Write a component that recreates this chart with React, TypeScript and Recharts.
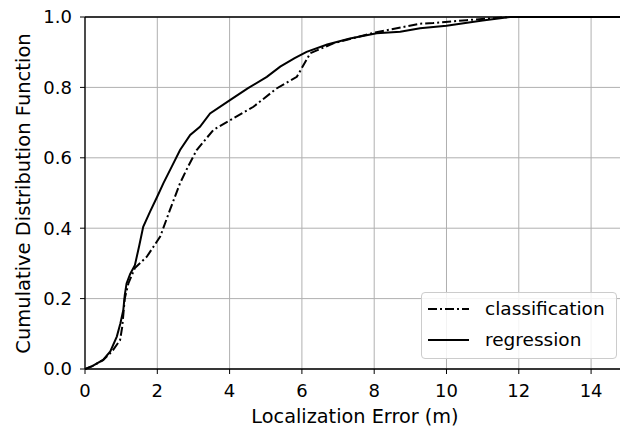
import { LineChart, Line, XAxis, YAxis, CartesianGrid, ReferenceLine, Label } from "recharts";

// localization error (m) and CDF values
const regressionX = [0, 0.2, 0.5, 0.7, 0.88, 0.98, 1.06, 1.1, 1.15, 1.25, 1.38, 1.5, 1.61, 1.8, 2.0, 2.17, 2.4, 2.63, 2.91, 3.18, 3.46, 4.01, 4.5, 5.03, 5.4, 5.8, 6.13, 6.7, 7.33, 8.07, 8.72, 9.27, 10.0, 11.0, 11.76, 14.8];
const regressionY = [0, 0.008, 0.026, 0.05, 0.092, 0.13, 0.168, 0.21, 0.243, 0.27, 0.295, 0.35, 0.404, 0.447, 0.49, 0.528, 0.575, 0.622, 0.665, 0.688, 0.726, 0.764, 0.797, 0.83, 0.859, 0.883, 0.901, 0.922, 0.939, 0.954, 0.958, 0.968, 0.975, 0.99, 1.0, 1.0];

const classificationX = [0, 0.2, 0.5, 0.75, 0.97, 1.03, 1.1, 1.2, 1.38, 1.71, 2.08, 2.35, 2.63, 2.85, 3.09, 3.55, 4.1, 4.66, 5.3, 5.86, 6.23, 6.87, 7.98, 9.27, 9.63, 10.56, 11.76, 14.8];
const classificationY = [0, 0.008, 0.025, 0.05, 0.082, 0.12, 0.2, 0.243, 0.287, 0.319, 0.376, 0.452, 0.528, 0.575, 0.622, 0.679, 0.712, 0.745, 0.797, 0.83, 0.897, 0.925, 0.955, 0.981, 0.983, 0.991, 1.0, 1.0];

const xTicks = [0, 2, 4, 6, 8, 10, 12, 14];
const yTicks = [0, 0.2, 0.4, 0.6, 0.8, 1.0];

const regression = regressionX.map((x, i) => ({ x, y: regressionY[i] }));
const classification = classificationX.map((x, i) => ({ x, y: classificationY[i] }));

const FONT = "'DejaVu Sans', sans-serif";
const DASH_DOT = "9 3 2 3";

// drawn outside the chart so it does not shrink the plot area
const LegendBox = () => (
  <div
    style={{
      position: "absolute",
      left: 421,
      top: 292,
      width: 196,
      height: 67,
      boxSizing: "border-box",
      border: "1px solid #cccccc",
      borderRadius: 4,
      background: "rgba(255,255,255,0.85)",
      fontFamily: FONT,
      fontSize: 18.5,
      color: "#000",
    }}
  >
    {[
      { name: "classification", dash: DASH_DOT },
      { name: "regression", dash: undefined },
    ].map((e) => (
      <div key={e.name} style={{ display: "flex", alignItems: "center", height: 31 }}>
        <svg width={48} height={10} style={{ marginLeft: 5, flexShrink: 0 }}>
          <line x1={1} x2={42} y1={5} y2={5} stroke="#000" strokeWidth={2} strokeDasharray={e.dash} />
        </svg>
        <span style={{ marginLeft: 10, whiteSpace: "nowrap" }}>{e.name}</span>
      </div>
    ))}
  </div>
);

export default function App() {
  return (
    <div style={{ position: "absolute", left: 0, top: 0, width: 620, height: 430, background: "#fff" }}>
      <LineChart width={620} height={430} margin={{ top: 17, right: 0, bottom: 0, left: 0 }}>
        <CartesianGrid stroke="#b0b0b0" strokeWidth={1} horizontalValues={yTicks} verticalValues={xTicks} />
        <XAxis
          type="number"
          dataKey="x"
          domain={[0, 14.8]}
          ticks={xTicks}
          allowDataOverflow
          height={61}
          tickSize={5}
          tickMargin={10}
          axisLine={{ stroke: "#000", strokeWidth: 1.3 }}
          tickLine={{ stroke: "#000", strokeWidth: 1 }}
          tick={{ fill: "#000", fontSize: 18, fontFamily: FONT }}
        >
          <Label
            content={() => (
              <text x={355} y={423} textAnchor="middle" fontSize={19.3} fontFamily={FONT} fill="#000">
                Localization Error (m)
              </text>
            )}
          />
        </XAxis>
        <YAxis
          type="number"
          dataKey="y"
          domain={[0, 1]}
          ticks={yTicks}
          width={85}
          tickSize={5}
          tickMargin={8}
          tickFormatter={(v) => Number(v).toFixed(1)}
          axisLine={{ stroke: "#000", strokeWidth: 1.3 }}
          tickLine={{ stroke: "#000", strokeWidth: 1 }}
          tick={{ fill: "#000", fontSize: 18, fontFamily: FONT }}
        >
          <Label
            content={() => (
              <text
                x={30}
                y={193.5}
                transform="rotate(-90 30 193.5)"
                textAnchor="middle"
                fontSize={19.5}
                fontFamily={FONT}
                fill="#000"
              >
                Cumulative Distribution Function
              </text>
            )}
          />
        </YAxis>
        <ReferenceLine y={1} stroke="#000" strokeWidth={1.3} />
        <Line
          data={classification}
          dataKey="y"
          name="classification"
          type="linear"
          stroke="#000"
          strokeWidth={2}
          strokeDasharray={DASH_DOT}
          dot={false}
          isAnimationActive={false}
        />
        <Line
          data={regression}
          dataKey="y"
          name="regression"
          type="linear"
          stroke="#000"
          strokeWidth={2}
          dot={false}
          isAnimationActive={false}
        />
      </LineChart>
      <LegendBox />
    </div>
  );
}
